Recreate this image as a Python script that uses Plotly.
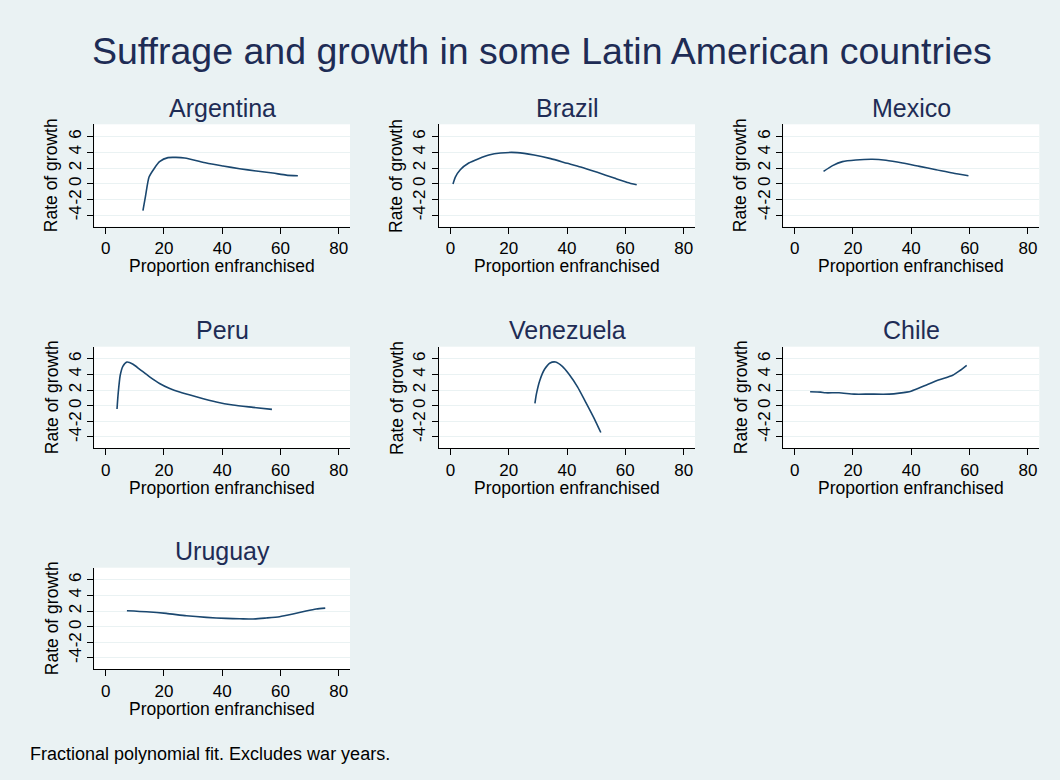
import plotly.graph_objects as go

# Fractional-polynomial fitted growth curves, by country
countries = ["Argentina", "Brazil", "Mexico", "Peru", "Venezuela", "Chile", "Uruguay"]

argentina_x = [12.8, 13.7, 14.9, 16.8, 18.5, 21.4, 27.1, 34.6, 40.3, 46.0, 51.7, 57.4, 62.0, 66.0]
argentina_y = [-3.4, -1.53, 0.85, 2.0, 2.8, 3.32, 3.28, 2.64, 2.26, 1.91, 1.62, 1.36, 1.1, 1.02]

brazil_x = [0.9, 1.7, 3.4, 6.3, 9.7, 13.2, 17.2, 22.9, 28.7, 34.4, 40.1, 44.7, 50.4, 56.2, 60.7, 63.9]
brazil_y = [-0.04, 0.85, 1.79, 2.64, 3.19, 3.66, 3.91, 3.96, 3.66, 3.19, 2.6, 2.13, 1.45, 0.72, 0.17, -0.13]

mexico_x = [9.9, 13.0, 16.4, 21.0, 26.7, 31.3, 37.0, 42.8, 48.5, 54.2, 59.6]
mexico_y = [1.57, 2.3, 2.81, 3.02, 3.11, 2.98, 2.64, 2.21, 1.79, 1.36, 1.02]

peru_x = [3.9, 4.3, 5.0, 5.9, 7.3, 9.4, 11.7, 15.1, 18.5, 22.0, 25.4, 31.1, 38.0, 43.7, 50.6, 57.1]
peru_y = [-0.42, 1.57, 3.9, 5.04, 5.59, 5.3, 4.66, 3.69, 2.84, 2.2, 1.74, 1.14, 0.47, 0.08, -0.21, -0.47]

venezuela_x = [29.0, 29.5, 30.7, 32.3, 34.2, 36.1, 38.4, 40.7, 43.6, 46.4, 49.3, 51.6]
venezuela_y = [0.3, 1.48, 3.26, 4.66, 5.47, 5.59, 5.04, 4.03, 2.42, 0.47, -1.61, -3.43]

chile_x = [5.3, 8.9, 10.6, 15.2, 20.4, 25.6, 32.4, 35.9, 39.9, 45.0, 49.6, 54.2, 56.5, 59.0]
chile_y = [1.78, 1.74, 1.65, 1.65, 1.48, 1.48, 1.48, 1.61, 1.86, 2.63, 3.31, 3.9, 4.45, 5.17]

uruguay_x = [7.3, 14.0, 20.8, 27.7, 34.6, 41.4, 46.0, 50.6, 55.1, 59.7, 64.3, 68.8, 72.3, 75.4]
uruguay_y = [2.04, 1.91, 1.7, 1.4, 1.19, 1.06, 1.02, 0.98, 1.11, 1.28, 1.62, 2.0, 2.26, 2.38]

x_ticks = [0, 20, 40, 60, 80]
y_ticks = [-4, -2, 0, 2, 4, 6]
y_tick_labels = ["-4", "-2", "0", "2", "4", "6"]

title_text = "Suffrage and growth in some Latin American countries"
note_text = "Fractional polynomial fit. Excludes war years."
x_title = "Proportion enfranchised"
y_title = "Rate of growth"

series = [
    (argentina_x, argentina_y),
    (brazil_x, brazil_y),
    (mexico_x, mexico_y),
    (peru_x, peru_y),
    (venezuela_x, venezuela_y),
    (chile_x, chile_y),
    (uruguay_x, uruguay_y),
]

W, H = 1060, 780
FONT = "Liberation Sans, Arial, sans-serif"
BG = "#EAF2F3"
NAVY = "#1A476F"
TITLE_COL = "#1E2C55"

# panel boxes in pixels (left, right, top, bottom)
col_lr = [(94.3, 350.0), (439.0, 695.0), (783.3, 1039.3)]
row_tb = [(124.3, 226.7), (346.7, 448.3), (567.7, 669.3)]

fig = go.Figure()
annotations = []

def px_x(v):
    return v / W

def px_y(v):
    return 1 - v / H

for i, (name, (xs, ys)) in enumerate(zip(countries, series)):
    r, c = divmod(i, 3)
    left, right = col_lr[c]
    top, bottom = row_tb[r]
    n = "" if i == 0 else str(i + 1)
    fig.add_trace(go.Scatter(
        x=xs, y=ys, mode="lines", line=dict(color=NAVY, width=1.6, shape="spline", smoothing=0.6),
        xaxis="x" + n, yaxis="y" + n, showlegend=False, hoverinfo="skip",
    ))
    fig.layout["xaxis" + n] = dict(
        domain=[px_x(left), px_x(right)], anchor="y" + n, range=[-3.9, 83.9],
        tickvals=x_ticks, ticks="outside", ticklen=6, tickcolor="black", tickwidth=1,
        showline=True, linecolor="black", linewidth=1, showgrid=False, zeroline=False,
        tickfont=dict(family=FONT, size=17, color="black"), fixedrange=True,
    )
    fig.layout["yaxis" + n] = dict(
        domain=[px_y(bottom), px_y(top)], anchor="x" + n, range=[-5.45, 7.55],
        tickvals=y_ticks, ticktext=y_tick_labels, ticks="outside", ticklen=6,
        tickcolor="black", tickwidth=1,
        tickangle=-90, showline=True, linecolor="black", linewidth=1,
        showgrid=True, gridcolor=BG, gridwidth=1, zeroline=False,
        tickfont=dict(family=FONT, size=17, color="black"), fixedrange=True,
    )
    cx = (left + right) / 2
    cy = (top + bottom) / 2
    annotations.append(dict(text=name, x=px_x(cx), y=px_y(top - 16.3), xref="paper", yref="paper",
                            xanchor="center", yanchor="middle", showarrow=False,
                            font=dict(family=FONT, size=25, color=TITLE_COL)))
    annotations.append(dict(text=x_title, x=px_x(cx), y=px_y(bottom + 39.5), xref="paper", yref="paper",
                            xanchor="center", yanchor="middle", showarrow=False,
                            font=dict(family=FONT, size=17.5, color="black")))
    annotations.append(dict(text=y_title, x=px_x(left - 42.6), y=px_y(cy), xref="paper", yref="paper",
                            xanchor="center", yanchor="middle", showarrow=False, textangle=-90,
                            font=dict(family=FONT, size=17.5, color="black")))

annotations.append(dict(text=title_text, x=px_x(541.5), y=px_y(50.7), xref="paper", yref="paper",
                        xanchor="center", yanchor="middle", showarrow=False,
                        font=dict(family=FONT, size=37.5, color=TITLE_COL)))
annotations.append(dict(text=note_text, x=px_x(28), y=px_y(754), xref="paper", yref="paper",
                        xanchor="left", yanchor="middle", showarrow=False,
                        font=dict(family=FONT, size=18, color="black")))

fig.update_layout(
    width=W, height=H, margin=dict(l=0, r=0, t=0, b=0),
    paper_bgcolor=BG, plot_bgcolor="white",
    annotations=annotations, showlegend=False,
)

fig.write_html("out.html", config={"displayModeBar": False})
